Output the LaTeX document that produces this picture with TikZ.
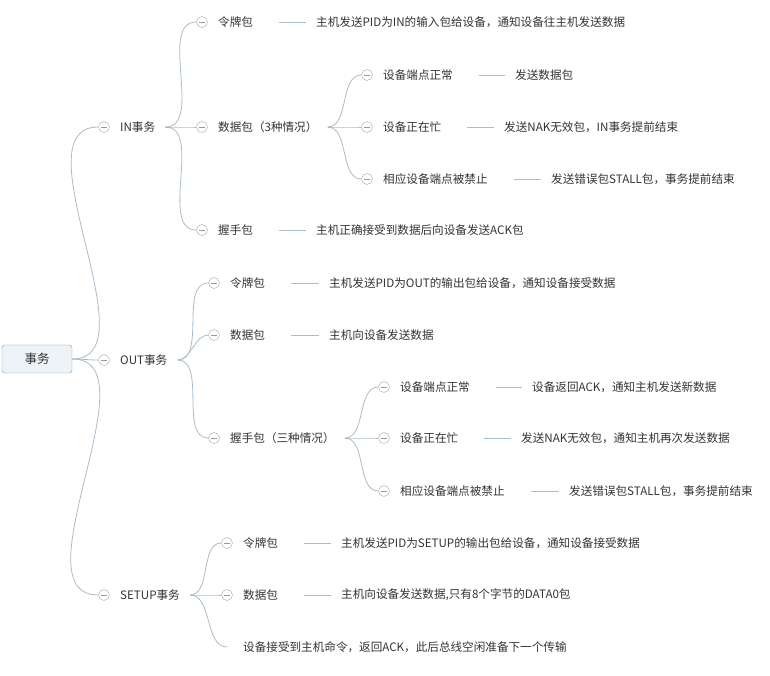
\documentclass[tikz,border=0pt]{standalone}
\usepackage{fontspec}
\setmainfont{Noto Sans CJK SC}
\usepackage{xcolor}
\usetikzlibrary{arrows.meta,positioning,calc}
\definecolor{linkblue}{HTML}{A9BCCB}
\definecolor{rootfill}{HTML}{EEF3F8}
\definecolor{rootdraw}{HTML}{7E9BB3}
\definecolor{txt}{HTML}{333333}

\begin{document}
\begin{tikzpicture}[
        x=1pt, y=-1pt,
        item/.style={anchor=west, inner sep=0pt, font=\fontsize{11.6}{13}\selectfont, text=txt},
        root/.style={rectangle, rounded corners=3pt, draw=rootdraw, fill=rootfill,
            minimum width=70pt, minimum height=28pt, font=\fontsize{12.5}{14}\selectfont, text=txt},
        fold/.style={circle, draw=gray!70, fill=white, minimum size=11pt, inner sep=0pt,
            path picture={\draw[gray!80] ($(path picture bounding box.center)+(-3pt,0)$) -- ++(6pt,0);}},
        branch/.style={linkblue, line width=0.8pt, out=0, in=180, looseness=0.9},
        leafline/.style={linkblue, line width=0.8pt, shorten <=26pt, shorten >=10pt},
    ]
    \useasboundingbox (0,0) rectangle (770,676);

    % ── root ──
    \node[root] (tx) at (37,359) {事务};

    % ── IN ──
    \node[fold] (fin) at (104,127) {};
    \node[item] (in) at (120,127) {IN事务};
    \node[fold] (fin1) at (202,22) {};
    \node[item] (in1) at (218,22) {令牌包};
    \node[item] (in1d) at (316,22) {主机发送PID为IN的输入包给设备，通知设备往主机发送数据};
    \node[fold] (fin2) at (202,127) {};
    \node[item] (in2) at (218,127) {数据包（3种情况）};
    \node[fold] (fin21) at (367,75) {};
    \node[item] (in21) at (383,75) {设备端点正常};
    \node[item] (in21d) at (515,75) {发送数据包};
    \node[fold] (fin22) at (367,127) {};
    \node[item] (in22) at (383,127) {设备正在忙};
    \node[item] (in22d) at (504,127) {发送NAK无效包，IN事务提前结束};
    \node[fold] (fin23) at (367,179) {};
    \node[item] (in23) at (383,179) {相应设备端点被禁止};
    \node[item] (in23d) at (551,179) {发送错误包STALL包，事务提前结束};
    \node[fold] (fin3) at (202,230) {};
    \node[item] (in3) at (218,230) {握手包};
    \node[item] (in3d) at (316,230) {主机正确接受到数据后向设备发送ACK包};

    % ── OUT ──
    \node[fold] (fout) at (104,360) {};
    \node[item] (out) at (120,360) {OUT事务};
    \node[fold] (fout1) at (214,283) {};
    \node[item] (out1) at (230,283) {令牌包};
    \node[item] (out1d) at (329,283) {主机发送PID为OUT的输出包给设备，通知设备接受数据};
    \node[fold] (fout2) at (214,335) {};
    \node[item] (out2) at (230,335) {数据包};
    \node[item] (out2d) at (329,335) {主机向设备发送数据};
    \node[fold] (fout3) at (214,438) {};
    \node[item] (out3) at (230,438) {握手包（三种情况）};
    \node[fold] (fout31) at (384,387) {};
    \node[item] (out31) at (400,387) {设备端点正常};
    \node[item] (out31d) at (532,387) {设备返回ACK，通知主机发送新数据};
    \node[fold] (fout32) at (384,438) {};
    \node[item] (out32) at (400,438) {设备正在忙};
    \node[item] (out32d) at (521,438) {发送NAK无效包，通知主机再次发送数据};
    \node[fold] (fout33) at (384,491) {};
    \node[item] (out33) at (400,491) {相应设备端点被禁止};
    \node[item] (out33d) at (569,491) {发送错误包STALL包，事务提前结束};

    % ── SETUP ──
    \node[fold] (fset) at (104,595) {};
    \node[item] (set) at (120,595) {SETUP事务};
    \node[fold] (fset1) at (227,543) {};
    \node[item] (set1) at (243,543) {令牌包};
    \node[item] (set1d) at (341,543) {主机发送PID为SETUP的输出包给设备，通知设备接受数据};
    \node[fold] (fset2) at (227,595) {};
    \node[item] (set2) at (243,595) {数据包};
    \node[item] (set2d) at (341,595) {主机向设备发送数据,只有8个字节的DATA0包};
    \coordinate (cset3) at (227,647);
    \node[item] (set3) at (243,647) {设备接受到主机命令，返回ACK，此后总线空闲准备下一个传输};

    % ── branches ──
    \foreach \a/\b in {fin/in, fout/out, fset/set}
        \draw[branch] (tx.east) to (\b.west -| \a.west);
    \foreach \p/\c in {in/fin1, in/fin2, in/fin3, in2/fin21, in2/fin22, in2/fin23,
                       out/fout1, out/fout2, out/fout3, out3/fout31, out3/fout32, out3/fout33,
                       set/fset1, set/fset2}
        \draw[branch] ($(\p.east)+(10pt,0)$) to (\c.west);
    \draw[branch] ($(set.east)+(10pt,0)$) to (cset3);

    % ── leaves ──
    \foreach \a/\b in {in1/in1d, in21/in21d, in22/in22d, in23/in23d, in3/in3d,
                       out1/out1d, out2/out2d, out31/out31d, out32/out32d, out33/out33d,
                       set1/set1d, set2/set2d}
        \draw[leafline] (\a.east) -- (\b.west);
\end{tikzpicture}
\end{document}
